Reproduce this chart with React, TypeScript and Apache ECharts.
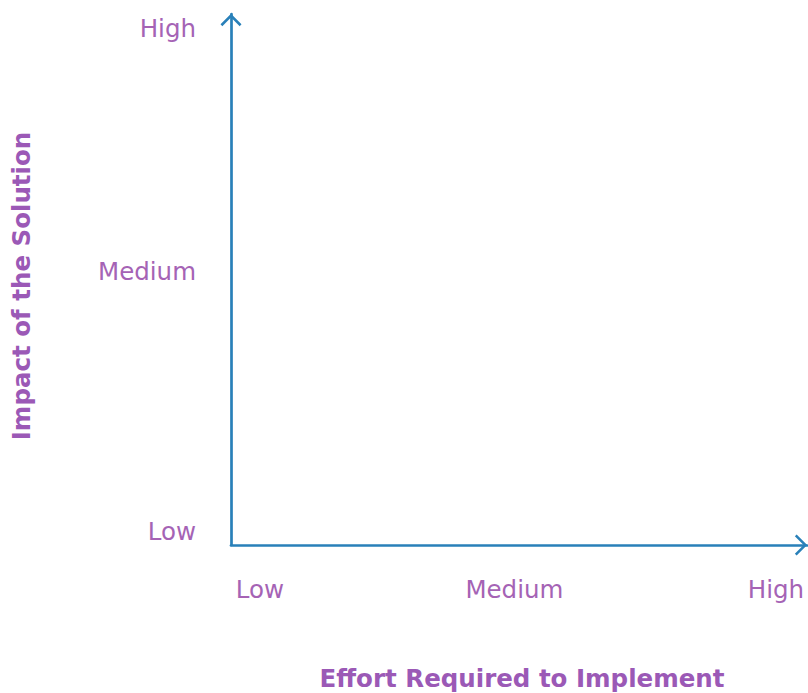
import React, { useEffect, useRef } from "react";
import * as echarts from "echarts";

const xTickLabels = ["Low", "Medium", "High"];
const xTickValues = [5.0, 49.2, 94.6];
const yTickLabels = ["Low", "Medium", "High"];
const yTickValues = [2.6, 51.6, 97.3];
const xAxisTitle = "Effort Required to Implement";
const yAxisTitle = "Impact of the Solution";

const AXIS_COLOR = "#2980b9";
const TEXT_COLOR = "#a563b5";
const TITLE_COLOR = "#9b59b6";
const FONT = "DejaVu Sans";

const chevron = "path://M10.5,0 L21,10.5 L19.2,12.3 L10.5,3.6 L1.8,12.3 L0,10.5 Z";

export default function App() {
  const ref = useRef<HTMLDivElement>(null);
  useEffect(() => {
    if (!ref.current) return;
    const chart = echarts.init(ref.current, undefined, { renderer: "svg" });
    const axisLine = {
      show: true,
      symbol: ["none", chevron],
      symbolSize: [21, 13],
      symbolOffset: [0, -6],
      lineStyle: { color: AXIS_COLOR, width: 2.7 },
    };
    chart.setOption({
      animation: false,
      backgroundColor: "#ffffff",
      grid: { left: 231, right: 1, top: 14, bottom: 148, containLabel: false, outerBoundsMode: "none" },
      xAxis: {
        type: "value",
        min: 0,
        max: 100,
        axisLine,
        axisTick: { show: false },
        splitLine: { show: false },
        axisLabel: {
          customValues: xTickValues,
          formatter: (v: number) => xTickLabels[xTickValues.indexOf(v)] ?? "",
          color: TEXT_COLOR,
          fontFamily: FONT,
          fontSize: 24.5,
          margin: 32,
        },
        name: xAxisTitle,
        nameLocation: "middle",
        nameGap: 121,
        nameTextStyle: {
          color: TITLE_COLOR,
          fontFamily: FONT,
          fontSize: 24.5,
          lineHeight: 24,
          fontWeight: "bold",
          padding: [0, 0, 0, 6],
        },
      },
      yAxis: {
        type: "value",
        min: 0,
        max: 100,
        axisLine,
        axisTick: { show: false },
        splitLine: { show: false },
        axisLabel: {
          customValues: yTickValues,
          formatter: (v: number) => yTickLabels[yTickValues.indexOf(v)] ?? "",
          color: TEXT_COLOR,
          fontFamily: FONT,
          fontSize: 24.5,
          margin: 35,
        },
        name: yAxisTitle,
        nameLocation: "middle",
        nameGap: 197,
        nameTextStyle: {
          color: TITLE_COLOR,
          fontFamily: FONT,
          fontSize: 24.5,
          fontWeight: "bold",
          padding: [0, 13, 0, 0],
        },
      },
      series: [{ type: "scatter", data: [] }],
    });
    return () => chart.dispose();
  }, []);
  return (
    <div
      ref={ref}
      style={{ position: "fixed", left: 0, top: 0, width: 808, height: 693, background: "#fff" }}
    />
  );
}
